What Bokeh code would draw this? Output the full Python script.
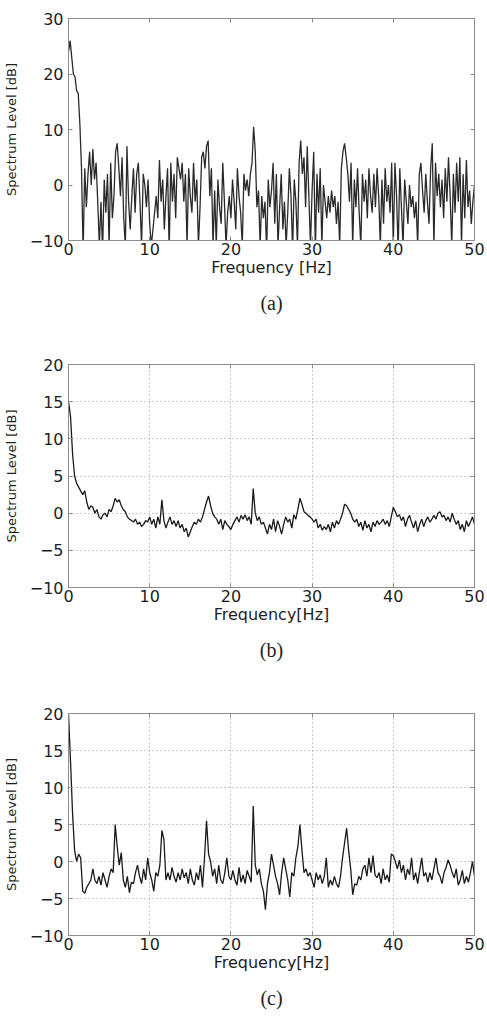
from bokeh.plotting import figure
from bokeh.models import LinearAxis, Title, Range1d, FixedTicker, ColumnDataSource
from bokeh.layouts import column
from bokeh.embed import file_html
from bokeh.resources import INLINE

# ---------------- data ----------------
x_ticks = [0, 10, 20, 30, 40, 50]
y_ticks_a = [-10, 0, 10, 20, 30]
y_ticks_bc = [-10, -5, 0, 5, 10, 15, 20]

step_a = 0.2
level_a = [
    24, 26, 23, 20, 19.5, 17, 16.5, 11, 3, -12,
    3, -4, 2, 6, 0, 6.5, 1, 4, -3, -11,
    -3, -12, 1, -5, 2, -11, 4, -6, -2, 6,
    7.5, 3, -2, 5, -6, -11, 7, -3, -8, -2,
    3, -5, 2, 4, -3, -11, 2, 0, -4, 1,
    -7, -11, -8, -5, -2, -6, 4.5, -3, 1, -8,
    -2, 3, -12, 4, -3, 2, -6, 5, 3, 1,
    4, -3, 2, -11, 3, -2, -5, 4, -3, 1,
    -11, -4, 5, 6, 3, 7, 8, -2, 3, -11,
    -1, -11, 1, -4, -7, 4, -3, -11, -5, -2,
    -6, 1, -3, -8, 3, -2, -5, -11, 2, -1,
    1, -2, 2, 4, 10.5, 6, -4, -1, -11, -2,
    -6, -3, -12, 1, -4, -1, 4, -7, 2, -11,
    -4, 2, -8, -3, -11, -5, 3, -2, -12, 1,
    -3, -11, 4, 8, 2, 5, -4, 7, -2, -11,
    -1, 6, -12, 2, -5, 3, -11, 0, -3, -6,
    -2, -5, -1, -4, -2, -7, -3, -11, 3, 6,
    7.5, 5, 2, -3, 4, -11, 1, -4, 3, -5,
    -11, 2, -3, 1, -6, 3, -2, -5, 2, -4,
    3, -2, -11, 1, -7, 3, -3, 0, -5, 4,
    -11, 4, -2, -12, 3, -4, -11, 1, -3, -7,
    0, -4, -2, -6, -3, -11, 2, 4, -1, -5,
    2, -3, -7, 3, 7.5, -11, 4, -2, 2, -4,
    1, -6, 3, -3, 5, -2, -11, 2, -5, 4,
    -3, 5, -11, 2, -6, 4.5, -4, -1, -7, -3,
    0,
]

step_bc = 0.25
level_b = [
    15, 13, 8, 5,
    4, 3.5, 3, 2.5,
    3, 1.5, 0.5, 1,
    0.8, 0, 0.5, -0.5,
    -0.8, -0.2, 0, -0.5,
    0.5, 0.2, 1, 2,
    1.5, 1.8, 1, 0.5,
    0.2, -0.5, -0.8, -1,
    -1.2, -0.8, -1.5, -1.2,
    -1.8, -1.5, -1, -1.2,
    -0.5, -1.5, -0.8, -2,
    -0.5, -1.5, 1.8, -1,
    -2, -1.2, -0.5, -1.5,
    -1, -1.8, -1, -2,
    -1.5, -2.5, -2, -3.2,
    -2.5, -1.8, -1.2, -1.5,
    -0.8, -1.2, -0.5, 0.5,
    1.5, 2.3, 1, 0,
    -0.5, -0.8, -1.5, -0.8,
    -2.2, -1, -1.5, -1.8,
    -2.2, -1.5, -1, -0.5,
    -1.2, -0.3, -0.8, -0.2,
    -1, -0.5, -1.5, 3.3,
    0, -1, -0.5, -1.5,
    -1.2, -2, -2.8, -1.5,
    -2.2, -0.8, -2.5, -1,
    -1.8, -2.8, -1.5, -0.5,
    -1.2, -0.8, -2, -0.2,
    -0.8, 0.5, 2, 1.2,
    0.2, 0, -0.3, -0.5,
    -0.8, -1.2, -0.8, -2,
    -1.5, -2.3, -1.8, -2.2,
    -1.5, -2.5, -1.2, -2,
    -1, -1.5, -0.8, 0,
    1.2, 1, 0.5, 0,
    -0.8, -1.2, -0.8, -1.8,
    -1.2, -2.3, -1, -2,
    -1.5, -2.5, -1.2, -1.8,
    -1, -1.5, -1.2, -0.8,
    -1.5, -1, -1.8, -0.5,
    0.8, 0.2, -0.5, -0.2,
    -1, -0.5, -1.8, -0.8,
    -0.3, -1.2, -2, -1,
    -2.5, -1.5, -0.8, -1.8,
    -1, -0.5, -1.2, -0.8,
    -0.3, -0.8, 0, 0.2,
    -0.5, -0.3, -1, -0.5,
    -1.2, 0, -0.8, -1.5,
    -1, -2.2, -1.5, -2.5,
    -1, -1.8, -1.2, -0.5,
    -1.5,
]

level_c = [
    20, 13.5, 6.5, 1.5,
    0, 1, 0.5, -4,
    -4.3, -3.5, -3, -2.5,
    -1, -2.5, -3, -2,
    -3.2, -1.5, -2.5, -3.5,
    -2, -1, -1.5, 5,
    2, -0.5, 1.2, -2.5,
    -3.5, -2, -4.2, -2.8,
    -3, -1.5, -0.5, -2,
    -3, -1, -2.5, 0.5,
    -1.5, -2.5, -4, -1.5,
    -2, -0.5, 4.2, 3,
    -2.5, -1.5, -2.5, -0.8,
    -2, -2.8, -1.5, -2.5,
    -1, -2.2, -1.5, -3,
    -1, -2.5, -3.2, -1.5,
    -2.5, -0.5, -3.5, 0.5,
    5.5, 1, 0, -2,
    -1, -3, -0.5, -2.5,
    -3, -1.5, 0.5, -2,
    -2.5, -1.2, -2.5, -3.2,
    -0.8, -2.8, -1.8, -3,
    -1.2, -2, -2.8, 7.5,
    -0.5, -1.8, -1, -3,
    -4, -6.5, -3, -1.5,
    1, -0.5, -2, -3,
    -4.5, -1.5, 0.5, -1,
    -2.5, -4.8, -1.5, -2,
    0.5, 2, 5, 1.5,
    -1.5, -1, -2, -1.5,
    -2.5, -3.5, -1.5, -2.5,
    -1.8, -3, -2, 0.5,
    -3.5, -2.5, -3.2, -2,
    -3, -3.5, -2, 0.5,
    2.5, 4.5, 1.5, -1,
    -4.5, -3, -3.2, -2,
    -2.5, -1, -0.5, -2,
    0.5, -1.5, 0.8, -1.8,
    -2.2, -1.5, -3, -1,
    -2.5, -1.8, -2.8, 1,
    0.8, 0, -1, 0.2,
    -1.5, -0.5, -2.5, -1,
    -1.8, 0.5, -2.5, -1.5,
    -3, -1.2, 0.5, -2,
    -1.5, -2.8, -1.5, -2.5,
    -1, 0.5, -1.5, -2,
    -3, -1.5, -0.8, 0.2,
    -0.5, -1.5, -2.2, -1,
    -3.2, -2.5, -1.2, -3,
    -2, -2.8, -1.5, 0,
    -2,
]

# ---------------- styling ----------------
FRAME = "#8c8c8c"
TEXT = "#1e1e1e"
TICK_FONT = "DejaVu Sans"


def style_axis(ax, ticks):
    ax.ticker = FixedTicker(ticks=ticks)
    ax.axis_line_color = FRAME
    ax.major_tick_line_color = FRAME
    ax.major_tick_in = 4
    ax.major_tick_out = 0
    ax.minor_tick_line_color = None
    ax.major_label_text_font = TICK_FONT
    ax.major_label_text_color = TEXT
    ax.major_label_text_font_size = "16px"


def add_tick_only_axis(p, ticks, side):
    # mirror axis (MATLAB style box ticks) with no labels drawn
    ax = LinearAxis(ticker=FixedTicker(ticks=ticks))
    ax.axis_line_color = FRAME
    ax.major_tick_line_color = FRAME
    ax.major_tick_in = 4
    ax.major_tick_out = 0
    ax.minor_tick_line_color = None
    ax.major_label_text_color = None
    ax.major_label_text_font_size = "1px"
    ax.major_label_standoff = 0
    p.add_layout(ax, side)


def make_panel(levels, step, ymin, ymax, yticks, xlabel, caption, grid,
               height, top, bottom, line_color):
    freqs = [round(i * step, 3) for i in range(len(levels))]
    src = ColumnDataSource(data=dict(f=freqs, v=levels))
    p = figure(width=487, height=height, output_backend="svg",
               toolbar_location=None,
               x_range=Range1d(0, 50), y_range=Range1d(ymin, ymax),
               min_border_left=68, min_border_right=13,
               min_border_top=top, min_border_bottom=bottom,
               background_fill_color="white", border_fill_color="white")
    p.outline_line_color = FRAME
    p.outline_line_width = 1

    style_axis(p.xaxis[0], x_ticks)
    style_axis(p.yaxis[0], yticks)
    p.xaxis[0].major_label_standoff = 2
    p.yaxis[0].major_label_standoff = 5

    p.xaxis[0].axis_label = xlabel
    p.xaxis[0].axis_label_text_font = TICK_FONT
    p.xaxis[0].axis_label_text_font_size = "16px"
    p.xaxis[0].axis_label_text_font_style = "normal"
    p.xaxis[0].axis_label_text_color = TEXT
    p.xaxis[0].axis_label_standoff = 0

    p.yaxis[0].axis_label = "Spectrum Level [dB]"
    p.yaxis[0].axis_label_text_font = TICK_FONT
    p.yaxis[0].axis_label_text_font_size = "13px"
    p.yaxis[0].axis_label_text_font_style = "normal"
    p.yaxis[0].axis_label_text_color = TEXT
    p.yaxis[0].axis_label_standoff = 8

    add_tick_only_axis(p, x_ticks, "above")
    add_tick_only_axis(p, yticks, "right")

    if grid:
        for g in (p.xgrid[0], p.ygrid[0]):
            g.grid_line_color = "#9a9a9a"
            g.grid_line_dash = "1 3"
            g.grid_line_width = 1
        p.xgrid[0].ticker = FixedTicker(ticks=x_ticks)
        p.ygrid[0].ticker = FixedTicker(ticks=yticks)
    else:
        p.xgrid.visible = False
        p.ygrid.visible = False

    p.line("f", "v", source=src, line_color=line_color, line_width=1.3)

    cap = Title(text=caption, align="center", text_font="Liberation Serif",
                text_font_size="20px", text_font_style="normal",
                text_color=TEXT, standoff=20)
    p.add_layout(cap, "below")
    return p


pa = make_panel(level_a, step_a, -10, 30, y_ticks_a, "Frequency [Hz]", "(a)",
                False, 345, 18, 105, "#2a2a2a")
pb = make_panel(level_b, step_bc, -10, 20, y_ticks_bc, "Frequency[Hz]", "(b)",
                True, 350, 19, 108, "#1a1a1a")
pc = make_panel(level_c, step_bc, -10, 20, y_ticks_bc, "Frequency[Hz]", "(c)",
                True, 332, 18, 92, "#1a1a1a")

layout = column(pa, pb, pc, spacing=0)
open("out.html", "w").write(file_html(layout, INLINE))
